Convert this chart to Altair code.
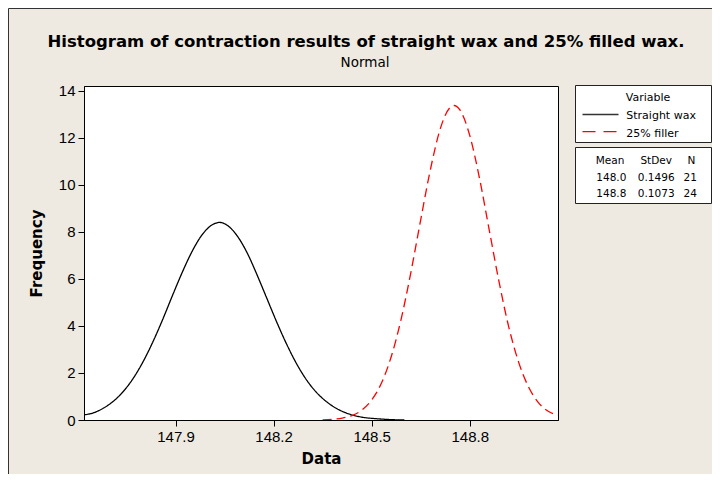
import altair as alt
import pandas as pd

# ---- values ----
variables = ["Straight wax", "25% filler"]

straight_x = [147.62, 147.65, 147.68, 147.71, 147.74, 147.77, 147.80, 147.83, 147.86, 147.89,
              147.92, 147.95, 147.98, 148.01, 148.035, 148.06, 148.09, 148.12, 148.15, 148.18,
              148.21, 148.24, 148.27, 148.30, 148.33, 148.36, 148.39, 148.42, 148.45, 148.48,
              148.51, 148.54, 148.57, 148.60]
straight_y = [0.22, 0.31, 0.51, 0.80, 1.21, 1.76, 2.46, 3.30, 4.25, 5.27,
              6.26, 7.15, 7.85, 8.28, 8.40, 8.26, 7.80, 7.08, 6.15, 5.15,
              4.15, 3.22, 2.40, 1.72, 1.19, 0.80, 0.51, 0.31, 0.18, 0.10,
              0.06, 0.03, 0.01, 0.0]

filler_x = [148.35, 148.38, 148.41, 148.44, 148.47, 148.50, 148.53, 148.56, 148.59, 148.62,
            148.65, 148.68, 148.71, 148.74, 148.752, 148.77, 148.80, 148.83, 148.86, 148.89,
            148.92, 148.95, 148.98, 149.01, 149.04, 149.07]
filler_y = [0.0, 0.03, 0.08, 0.19, 0.42, 0.85, 1.57, 2.70, 4.28, 6.28,
            8.51, 10.67, 12.39, 13.29, 13.37, 13.18, 12.10, 10.27, 8.05, 5.85,
            3.92, 2.44, 1.40, 0.74, 0.37, 0.22]

means = ["148.0", "148.8"]
stdevs = ["0.1496", "0.1073"]
counts = ["21", "24"]

x_ticks = [147.9, 148.2, 148.5, 148.8]
y_ticks = [0, 2, 4, 6, 8, 10, 12, 14]

title_text = "Histogram of contraction results of straight wax and 25% filled wax."
subtitle_text = "Normal"

# ---- data table ----
df = pd.DataFrame({
    "Data": straight_x + filler_x,
    "Frequency": straight_y + filler_y,
    "Variable": [variables[0]] * len(straight_x) + [variables[1]] * len(filler_x),
})

BG = "#eeeae1"
colors = ["#000000", "#ff0000"]
dashes = [[1, 0], [9, 5]]

curves = alt.Chart(df).mark_line(strokeWidth=1.3, clip=True, interpolate="monotone").encode(
    x=alt.X("Data:Q",
            scale=alt.Scale(domain=[147.62, 149.07], nice=False, zero=False),
            axis=alt.Axis(values=x_ticks, format=".1f", title="Data", titlePadding=7)),
    y=alt.Y("Frequency:Q",
            scale=alt.Scale(domain=[0, 14.2], nice=False),
            axis=alt.Axis(values=y_ticks, format="d", title="Frequency", titlePadding=14)),
    color=alt.Color("Variable:N", scale=alt.Scale(domain=variables, range=colors), legend=None),
    strokeDash=alt.StrokeDash("Variable:N", scale=alt.Scale(domain=variables, range=dashes), legend=None),
    detail="Variable:N",
)

one = pd.DataFrame({"k": [0]})


def label(text, x, y, size=11, weight="normal", font="DejaVu Sans", align="center"):
    return alt.Chart(one).mark_text(
        font=font, fontSize=size, fontWeight=weight, color="black",
        align=align, baseline="alphabetic", clip=False,
    ).encode(x=alt.value(x), y=alt.value(y), text=alt.value(text))


def box(x1, x2, y1, y2, fill="white"):
    return alt.Chart(one).mark_rect(fill=fill, stroke="#222222", strokeWidth=1, clip=False).encode(
        x=alt.value(x1), x2=alt.value(x2), y=alt.value(y1), y2=alt.value(y2))


def sample(y, color, dash):
    return alt.Chart(one).mark_rule(color=color, strokeWidth=1.3, strokeDash=dash, clip=False).encode(
        x=alt.value(498.5), x2=alt.value(534.5), y=alt.value(y))


# outer frame lines (top and left edges of the figure)
frame_top = alt.Chart(one).mark_rule(color="#333333", strokeWidth=1, clip=False).encode(
    x=alt.value(-75.5), x2=alt.value(628), y=alt.value(-77.5))
frame_left = alt.Chart(one).mark_rule(color="#333333", strokeWidth=1, clip=False).encode(
    x=alt.value(-75.5), y=alt.value(-77.5), y2=alt.value(388))

layers = [
    frame_top, frame_left,
    curves,
    label(title_text, 282, -39.5, size=16.5, weight="bold"),
    label(subtitle_text, 281, -19.5, size=13.5),
    box(491.5, 627.5, -0.5, 56.5),
    label("Variable", 564, 15.3),
    sample(28.5, "#333333", dashes[0]),
    label(variables[0], 542.3, 33, align="left"),
    sample(45.7, colors[1], [13, 8]),
    label(variables[1], 542.3, 50.7, align="left"),
    box(491.5, 627.5, 61.5, 117.5),
    label("Mean", 526, 78, size=10.5),
    label("StDev", 572.2, 78, size=10.5),
    label("N", 607.3, 78, size=10.5),
]
for i in range(2):
    yy = 95.3 + i * 16
    layers += [
        label(means[i], 527.3, yy, size=10.5),
        label(stdevs[i], 572.2, yy, size=10.5),
        label(counts[i], 606.3, yy, size=10.5),
    ]

chart = alt.layer(*layers).properties(
    width=474,
    height=334,
    padding={"left": 76, "top": 78, "right": 154, "bottom": 54},
    autosize=alt.AutoSizeParams(type="none"),
    background=BG,
).configure_view(
    stroke="black", strokeWidth=1, fill="white"
).configure_axis(
    grid=False,
    domainColor="black",
    tickColor="black",
    tickSize=6,
    labelFont="Liberation Sans",
    labelFontSize=15,
    labelColor="black",
    labelPadding=3,
    labelFlush=False,
    labelOverlap=False,
    titleFont="DejaVu Sans",
    titleFontSize=15,
    titleFontWeight="bold",
    titleColor="black",
)

chart.save("out.html", embed_options={"renderer": "svg", "actions": False})
